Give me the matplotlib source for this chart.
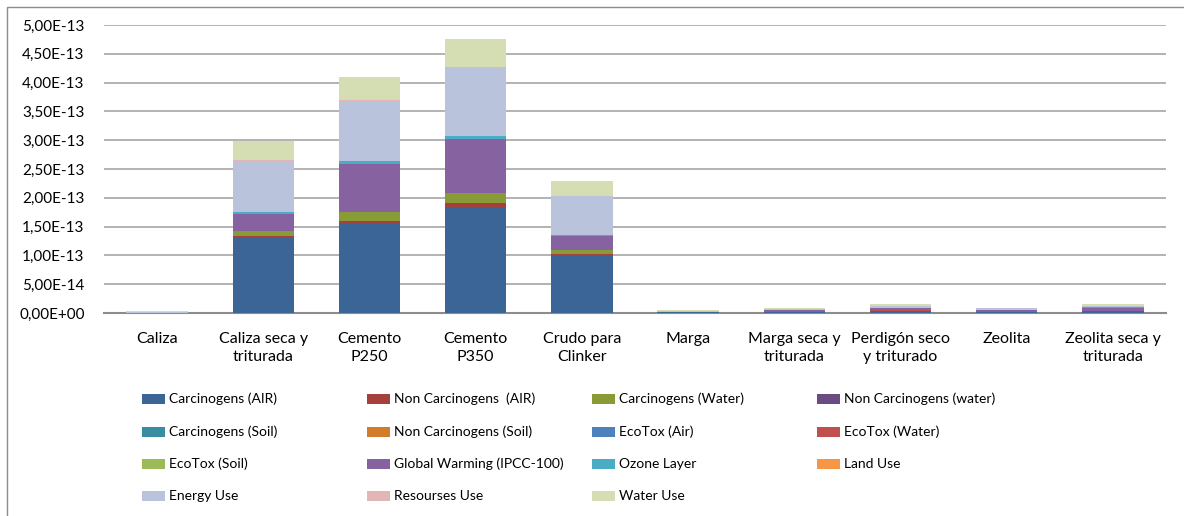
import numpy as np
import matplotlib.pyplot as plt
from matplotlib.patches import Rectangle
from matplotlib.ticker import FuncFormatter

plt.rcParams['font.family'] = ['Lato', 'DejaVu Sans']

categories = ['Caliza', 'Caliza seca y\ntriturada', 'Cemento\nP250', 'Cemento\nP350',
              'Crudo para\nClinker', 'Marga', 'Marga seca y\ntriturada',
              'Perdigón seco\ny triturado', 'Zeolita', 'Zeolita seca y\ntriturada']

# impact values, in units of 1e-13
carc_air = [0.005, 1.325, 1.557, 1.835, 0.995, 0.02, 0.02, 0.03, 0.02, 0.03]
noncarc_air = [0.0, 0.005, 0.043, 0.08, 0.03, 0.0, 0.005, 0.01, 0.005, 0.005]
carc_water = [0.0, 0.09, 0.15, 0.165, 0.065, 0.0, 0.0, 0.0, 0.0, 0.0]
noncarc_water = [0.0, 0.005, 0.005, 0.005, 0.005, 0.0, 0.0, 0.0, 0.0, 0.0]
carc_soil = [0.0] * 10
noncarc_soil = [0.0] * 10
ecotox_air = [0.0] * 10
ecotox_water = [0.0, 0.0, 0.0, 0.0, 0.0, 0.0, 0.01, 0.02, 0.005, 0.005]
ecotox_soil = [0.0] * 10
global_warming = [0.0, 0.30, 0.84, 0.94, 0.235, 0.0, 0.02, 0.02, 0.03, 0.05]
ozone_layer = [0.0, 0.03, 0.05, 0.04, 0.03, 0.0, 0.0, 0.0, 0.0, 0.01]
land_use = [0.0] * 10
energy_use = [0.01, 0.89, 1.04, 1.205, 0.675, 0.02, 0.02, 0.04, 0.02, 0.03]
resources_use = [0.0, 0.003, 0.02, 0.005, 0.003, 0.0, 0.0, 0.0, 0.0, 0.0]
water_use = [0.02, 0.33, 0.385, 0.485, 0.26, 0.01, 0.01, 0.03, 0.01, 0.02]

y_ticks = [0.0, 0.5e-13, 1.0e-13, 1.5e-13, 2.0e-13, 2.5e-13,
           3.0e-13, 3.5e-13, 4.0e-13, 4.5e-13, 5.0e-13]

series = [
    ('Carcinogens (AIR)', carc_air, '#3B6596'),
    ('Non Carcinogens  (AIR)', noncarc_air, '#A5403D'),
    ('Carcinogens (Water)', carc_water, '#889B37'),
    ('Non Carcinogens (water)', noncarc_water, '#6A4B82'),
    ('Carcinogens (Soil)', carc_soil, '#3A8DA0'),
    ('Non Carcinogens (Soil)', noncarc_soil, '#D27B2A'),
    ('EcoTox (Air)', ecotox_air, '#4F81BD'),
    ('EcoTox (Water)', ecotox_water, '#C0504D'),
    ('EcoTox (Soil)', ecotox_soil, '#9BBB59'),
    ('Global Warming (IPCC-100)', global_warming, '#8662A0'),
    ('Ozone Layer', ozone_layer, '#4BACC6'),
    ('Land Use', land_use, '#F79646'),
    ('Energy Use', energy_use, '#B9C3DC'),
    ('Resourses Use', resources_use, '#E2B6B4'),
    ('Water Use', water_use, '#D5DDB2'),
]

W, H = 1184, 516
fig = plt.figure(figsize=(W / 100, H / 100), dpi=100)
ax = fig.add_axes([104 / W, 1 - 313 / H, (1166 - 104) / W, 288 / H])

x = np.arange(len(categories))
bottom = np.zeros(len(categories))
for name, vals, color in series:
    v = np.array(vals) * 1e-13
    ax.bar(x, v, 0.58, bottom=bottom, color=color, label=name, zorder=3)
    bottom += v

ax.set_xlim(-0.5, len(categories) - 0.5)
ax.set_ylim(0, 5e-13)
ax.set_yticks(y_ticks)
ax.yaxis.set_major_formatter(FuncFormatter(lambda v, p: f'{v:.2E}'.replace('.', ',')))
ax.grid(axis='y', color='#A6A6A6', linewidth=1.2, zorder=0)
for s in ['left', 'right', 'top']:
    ax.spines[s].set_visible(False)
ax.spines['bottom'].set_color('#8C8C8C')
ax.spines['bottom'].set_linewidth(1.5)
ax.set_xticks(x)
ax.set_xticklabels(categories, fontsize=11.5, linespacing=1.3)
ax.tick_params(axis='x', length=0, pad=14)
ax.tick_params(axis='y', length=0, pad=14, labelsize=11)

# legend laid out in four fixed-width columns, filled row by row
col_x = [142, 367, 592, 817]
row_y = [399, 432, 464, 496]
for i, (name, vals, color) in enumerate(series):
    cx = col_x[i % 4]
    cy = row_y[i // 4]
    fig.add_artist(Rectangle((cx / W, 1 - (cy + 5) / H), 23 / W, 10 / H,
                             transform=fig.transFigure, facecolor=color,
                             edgecolor='none'))
    fig.text((cx + 27) / W, 1 - cy / H, name, fontsize=10, va='center', ha='left')

# chart frame
fig.add_artist(Rectangle((7 / W, -0.05), 1.1, 1 - 7 / H + 0.05,
                         transform=fig.transFigure, facecolor='none',
                         edgecolor='#8C8C8C', linewidth=1))

fig.savefig('out.png', dpi=100)
